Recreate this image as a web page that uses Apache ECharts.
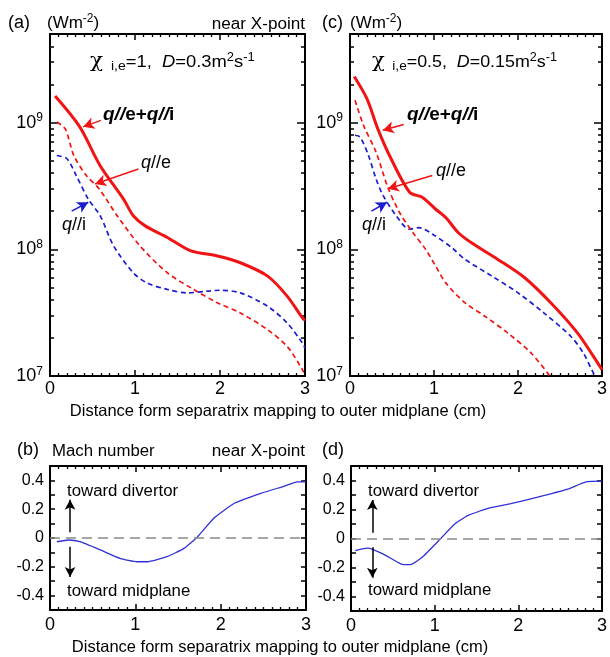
<!DOCTYPE html>
<html><head><meta charset="utf-8">
<script src="https://cdn.jsdelivr.net/npm/echarts@6/dist/echarts.min.js"></script>
<style>html,body{margin:0;padding:0;background:#fff}#wrap{position:relative;width:610px;height:657px;overflow:hidden}
.p{position:absolute}</style>
</head><body><div id="wrap">
<div class="p" id="pa" style="left:0;top:0;width:320px;height:400px"></div>
<div class="p" id="pc" style="left:300px;top:0;width:310px;height:400px"></div>
<div class="p" id="pb" style="left:0;top:420px;width:320px;height:216px"></div>
<div class="p" id="pd" style="left:300px;top:420px;width:310px;height:216px"></div>
<div class="p" id="t1" style="left:0;top:399px;width:610px;height:22px"></div>
<div class="p" id="t2" style="left:0;top:636px;width:610px;height:21px"></div>
</div>
<script>
// ---------- data ----------
// panel (a): chi=1, D=0.3
const aTotX = [0.06, 0.35, 0.59, 0.865, 0.98, 1.12, 1.38, 1.65, 1.97, 2.24, 2.56, 2.79, 2.97, 3.0];
const aTotY = [1.62e9, 9.25e8, 4.57e8, 2.49e8, 1.84e8, 1.53e8, 1.24e8, 9.77e7, 8.85e7, 7.83e7, 6.14e7, 4.27e7, 2.87e7, 2.75e7];
const aEX = [0.08, 0.18, 0.28, 0.43, 0.58, 0.79, 1.06, 1.38, 1.69, 1.97, 2.24, 2.56, 2.79, 2.97, 3.0];
const aEY = [1.01e9, 8.9e8, 5.5e8, 3.8e8, 2.99e8, 1.84e8, 1.06e8, 6.53e7, 4.82e7, 3.78e7, 3.14e7, 2.32e7, 1.71e7, 1.12e7, 1.0e7];
const aIX = [0.08, 0.2, 0.31, 0.45, 0.59, 0.75, 0.98, 1.14, 1.38, 1.61, 1.85, 2.0, 2.24, 2.56, 2.79, 2.97, 3.0];
const aIY = [5.5e8, 5.18e8, 3.8e8, 2.49e8, 1.84e8, 1.06e8, 6.53e7, 5.43e7, 4.82e7, 4.53e7, 4.67e7, 4.75e7, 4.53e7, 3.55e7, 2.62e7, 1.82e7, 1.66e7];
// panel (c): chi=0.5, D=0.15
const cTotX = [0.05, 0.2, 0.33, 0.47, 0.71, 0.86, 1.02, 1.14, 1.29, 1.45, 1.76, 2.08, 2.39, 2.71, 2.9, 3.0];
const cTotY = [2.31e9, 1.55e9, 8.95e8, 5.5e8, 2.82e8, 2.57e8, 2.07e8, 1.78e8, 1.35e8, 1.12e8, 8.32e7, 5.96e7, 3.78e7, 2.18e7, 1.42e7, 1.12e7];
const cEX = [0.06, 0.16, 0.31, 0.45, 0.59, 0.75, 0.9, 1.02, 1.14, 1.37, 1.61, 1.88, 2.16, 2.38];
const cEY = [1.5e9, 9.55e8, 5.85e8, 3.09e8, 1.95e8, 1.35e8, 1.0e8, 7.36e7, 5.43e7, 3.78e7, 2.95e7, 2.18e7, 1.51e7, 1.0e7];
const cIX = [0.06, 0.12, 0.22, 0.31, 0.39, 0.55, 0.71, 0.82, 0.98, 1.22, 1.37, 1.69, 2.0, 2.31, 2.63, 2.78, 2.9, 2.93];
const cIY = [7.94e8, 7.69e8, 5.5e8, 3.6e8, 2.69e8, 1.84e8, 1.44e8, 1.48e8, 1.32e8, 1.02e8, 8.32e7, 6.14e7, 4.53e7, 3.14e7, 2.05e7, 1.51e7, 1.05e7, 1.0e7];
// panel (b) and (d): Mach number
const bX = [0.08, 0.22, 0.35, 0.59, 0.82, 1.02, 1.14, 1.37, 1.57, 1.73, 1.92, 2.16, 2.47, 2.75, 2.9, 3.0];
const bY = [-0.026, -0.014, -0.026, -0.083, -0.141, -0.165, -0.165, -0.13, -0.072, 0.009, 0.137, 0.241, 0.31, 0.361, 0.39, 0.39];
const dX = [0.05, 0.2, 0.38, 0.6, 0.71, 0.85, 1.05, 1.24, 1.4, 1.67, 1.91, 2.22, 2.58, 2.81, 3.0];
const dY = [-0.083, -0.067, -0.106, -0.176, -0.18, -0.13, -0.014, 0.10, 0.16, 0.213, 0.24, 0.283, 0.338, 0.39, 0.395];
// tick values
const logMajor = [1e7, 1e8, 1e9];
const logMinor = [2e7,3e7,4e7,5e7,6e7,7e7,8e7,9e7,2e8,3e8,4e8,5e8,6e8,7e8,8e8,9e8,2e9,3e9,4e9];

// ---------- styling ----------
const FF = '"Liberation Sans", Arial, Helvetica, sans-serif';
const RED = '#f01414', BLUE = '#1c1cd0', MACH = '#3030d8';
const zip = (xs, ys) => xs.map((x, i) => [x, ys[i]]);

function axLine() { return {show: true, onZero: false, lineStyle: {color: '#000', width: 2}}; }
function xAx(pos, labels, margin) {
  return {
    type: 'value', gridIndex: 0, position: pos, min: 0, max: 3, interval: 1,
    axisLine: axLine(),
    axisTick: {show: true, inside: true, length: 6, lineStyle: {color: '#000', width: 1.5}},
    minorTick: {show: true, splitNumber: 10, length: 3, lineStyle: {color: '#000', width: 1.3}},
    axisLabel: {show: labels, margin: margin, color: '#000', fontSize: 18, fontFamily: FF,
      formatter: v => String(Math.round(v))},
    splitLine: {show: false}
  };
}
function logAx(pos, ticks, len, labels) {
  return {
    type: 'log', logBase: 10, gridIndex: 0, position: pos, min: 1e7, max: 5e9,
    axisLine: axLine(),
    axisTick: {show: true, inside: true, length: len, customValues: ticks, lineStyle: {color: '#000', width: 1.5}},
    axisLabel: {show: labels, customValues: logMajor, margin: 7, color: '#000', fontFamily: FF,
      formatter: v => '{b|10}{s|' + Math.round(Math.log10(v)) + '}',
      rich: {b: {fontSize: 18, fontFamily: FF, color: '#000'},
             s: {fontSize: 12, fontFamily: FF, color: '#000', padding: [0, 0, 9, 0]}}},
    splitLine: {show: false}
  };
}
function machAx(pos, labels) {
  return {
    type: 'value', gridIndex: 0, position: pos, min: -0.5, max: 0.5, interval: 0.1,
    axisLine: axLine(),
    axisTick: {show: true, inside: true, length: 5, lineStyle: {color: '#000', width: 1.5}},
    axisLabel: {show: labels, margin: 6, color: '#000', fontSize: 16, fontFamily: FF,
      formatter: v => { const r = Math.round(v * 10); if (r % 2 !== 0) return ''; return r === 0 ? '0' : (r / 10).toFixed(1); }},
    splitLine: {show: false}
  };
}
function arrow(from, to, color) {
  return [{coord: from, symbol: 'none', lineStyle: {color: color, width: 1.5, type: 'solid'}},
          {coord: to, symbol: 'arrow'}];
}
function qSeries(data, color, dashed, width, ml) {
  return {
    type: 'line', xAxisIndex: 0, yAxisIndex: 0, data: data, showSymbol: false, symbol: 'none',
    smooth: 0.3, silent: true, animation: false,
    lineStyle: {color: color, width: width, type: dashed ? [5, 3.5] : 'solid'}, z: dashed ? 3 : 4,
    markLine: {silent: true, animation: false, symbolSize: [9, 11], label: {show: false}, data: ml}
  };
}
function machSeries(data, ax) {
  return {
    type: 'line', xAxisIndex: 0, yAxisIndex: 0, data: data, showSymbol: false, symbol: 'none',
    smooth: 0.15, silent: true, animation: false, lineStyle: {color: MACH, width: 1.3}, z: 4,
    markLine: {silent: true, animation: false, symbolSize: [8, 10], label: {show: false}, data: [
      [{coord: [0, 0], symbol: 'none', lineStyle: {color: '#8a8a8a', width: 1.5, type: [10, 6]}}, {coord: [3, 0], symbol: 'none'}],
      arrow([ax, 0.04], [ax, 0.265], '#000'),
      arrow([ax, -0.06], [ax, -0.27], '#000')
    ]}
  };
}

// ---------- texts ----------
function txt(x, y, text, size, opts, extra) {
  return Object.assign({type: 'text', x: x, y: y, silent: true, z: 100, style: Object.assign({
    text: text, fontSize: size, fontFamily: FF, fill: '#000', textVerticalAlign: 'middle'}, opts || {})}, extra || {});
}
const supRich = {
  n: {fontSize: 17, fontFamily: FF, color: '#000'},
  i: {fontSize: 17, fontFamily: FF, color: '#000', fontStyle: 'italic'},
  sub: {fontSize: 13, fontFamily: FF, color: '#000', padding: [8, 0, 0, 0]},
  sup: {fontSize: 12, fontFamily: FF, color: '#000', padding: [0, 0, 9, 0]},
  chi: {fontSize: 20, fontFamily: '"DejaVu Serif", serif', color: '#000'}
};
const qRich = (c) => ({
  q: {fontSize: 19, fontFamily: FF, color: c, fontStyle: 'italic', fontWeight: 'bold'},
  s: {fontSize: 19, fontFamily: FF, color: c, fontStyle: 'italic', fontWeight: 'bold'},
  r: {fontSize: 19, fontFamily: FF, color: c, fontWeight: 'bold'},
  qn: {fontSize: 18, fontFamily: FF, color: c, fontStyle: 'italic'},
  rn: {fontSize: 18, fontFamily: FF, color: c}
});
function rtxt(x, y, text, rich, extra) {
  return Object.assign({type: 'text', x: x, y: y, silent: true, z: 100,
    style: {text: text, rich: rich, fontFamily: FF, fill: '#000', textAlign: 'left', textVerticalAlign: 'middle'}}, extra || {});
}
const sx = (k) => ({scaleX: k, originX: 0, originY: 0});

// ---------- panels (each in its own container; grid offsets are local) ----------
function topPanel(tot, e, i, mlTot, mlE, mlI, graphic) {
  return {
    animation: false, grid: [{left: 50, top: 34, width: 255, height: 342}],
    xAxis: [xAx('bottom', true, 4), xAx('top', false, 4)],
    yAxis: [logAx('left', logMajor, 8, true), logAx('right', logMajor, 8, false),
            logAx('left', logMinor, 4, false), logAx('right', logMinor, 4, false)],
    series: [qSeries(i, BLUE, true, 1.7, mlI), qSeries(e, RED, true, 1.7, mlE), qSeries(tot, RED, false, 3, mlTot)],
    graphic: graphic
  };
}
function machPanel(left, height, data, ax, graphic) {
  return {
    animation: false, grid: [{left: left, top: 46, width: 256, height: height}],
    xAxis: [xAx('bottom', true, 6), xAx('top', false, 6)],
    yAxis: [machAx('left', true), machAx('right', false)],
    series: [machSeries(data, ax)],
    graphic: graphic
  };
}

echarts.init(document.getElementById('pa')).setOption(topPanel(
  zip(aTotX, aTotY), zip(aEX, aEY), zip(aIX, aIY),
  [arrow([0.6, 1.04e9], [0.39, 9.25e8], RED)],
  [arrow([1.04, 4.3e8], [0.53, 3.28e8], RED)],
  [arrow([0.255, 2.0e8], [0.45, 2.35e8], BLUE)],
  [
    txt(-14, -15, 'Figure 4 (continued)', 22, {fontWeight: 'bold'}),
    txt(8, 23, '(a)', 18),
    rtxt(47, 23, '{n|(Wm}{sup|-2}{n|)}', supRich),
    txt(305, 25, 'near X-point', 16, {textAlign: 'right'}, sx(1.07)),
    rtxt(90, 62, '{chi|χ}{sub|  i,e}{n|=1,  }{i|D}{n|=0.3m}{sup|2}{n|s}{sup|-1}', supRich, sx(1.08)),
    rtxt(103, 115, '{q|q}{s|//}{r|e+}{q|q}{s|//}{r|i}', qRich(RED)),
    rtxt(141, 163, '{qn|q}{rn|//e}', qRich(RED)),
    rtxt(62, 225, '{qn|q}{rn|//i}', qRich(BLUE))
  ]));
echarts.init(document.getElementById('pc')).setOption(topPanel(
  zip(cTotX, cTotY), zip(cEX, cEY), zip(cIX, cIY),
  [arrow([0.64, 9.64e8], [0.39, 8.69e8], RED)],
  [arrow([0.98, 3.82e8], [0.45, 3.0e8], RED)],
  [arrow([0.255, 2.0e8], [0.44, 2.35e8], BLUE)],
  [
    txt(22, 23, '(c)', 18),
    rtxt(50, 23, '{n|(Wm}{sup|-2}{n|)}', supRich),
    rtxt(72, 62, '{chi|χ}{sub|  i,e}{n|=0.5,  }{i|D}{n|=0.15m}{sup|2}{n|s}{sup|-1}', supRich, sx(1.05)),
    rtxt(107, 115, '{q|q}{s|//}{r|e+}{q|q}{s|//}{r|i}', qRich(RED)),
    rtxt(136, 171, '{qn|q}{rn|//e}', qRich(RED)),
    rtxt(62, 225, '{qn|q}{rn|//i}', qRich(BLUE))
  ]));
echarts.init(document.getElementById('pb')).setOption(machPanel(50, 144, zip(bX, bY), 0.235, [
  txt(17, 30, '(b)', 18),
  txt(52, 32, 'Mach number', 16, null, sx(1.05)),
  txt(305, 32, 'near X-point', 16, {textAlign: 'right'}, sx(1.07)),
  txt(67, 72, 'toward divertor', 16, null, sx(1.05)),
  txt(67, 172, 'toward midplane', 16, null, sx(1.05))
]));
echarts.init(document.getElementById('pd')).setOption(machPanel(51, 145, zip(dX, dY), 0.255, [
  txt(22, 30, '(d)', 18),
  txt(68, 72, 'toward divertor', 16, null, sx(1.05)),
  txt(68, 171, 'toward midplane', 16, null, sx(1.05))
]));
echarts.init(document.getElementById('t1')).setOption({animation: false, graphic: [
  txt(278, 12, 'Distance form separatrix mapping to outer midplane (cm)', 16.5, {textAlign: 'center'})]});
echarts.init(document.getElementById('t2')).setOption({animation: false, graphic: [
  txt(280, 11, 'Distance form separatrix mapping to outer midplane (cm)', 16.5, {textAlign: 'center'})]});
</script></body></html>
